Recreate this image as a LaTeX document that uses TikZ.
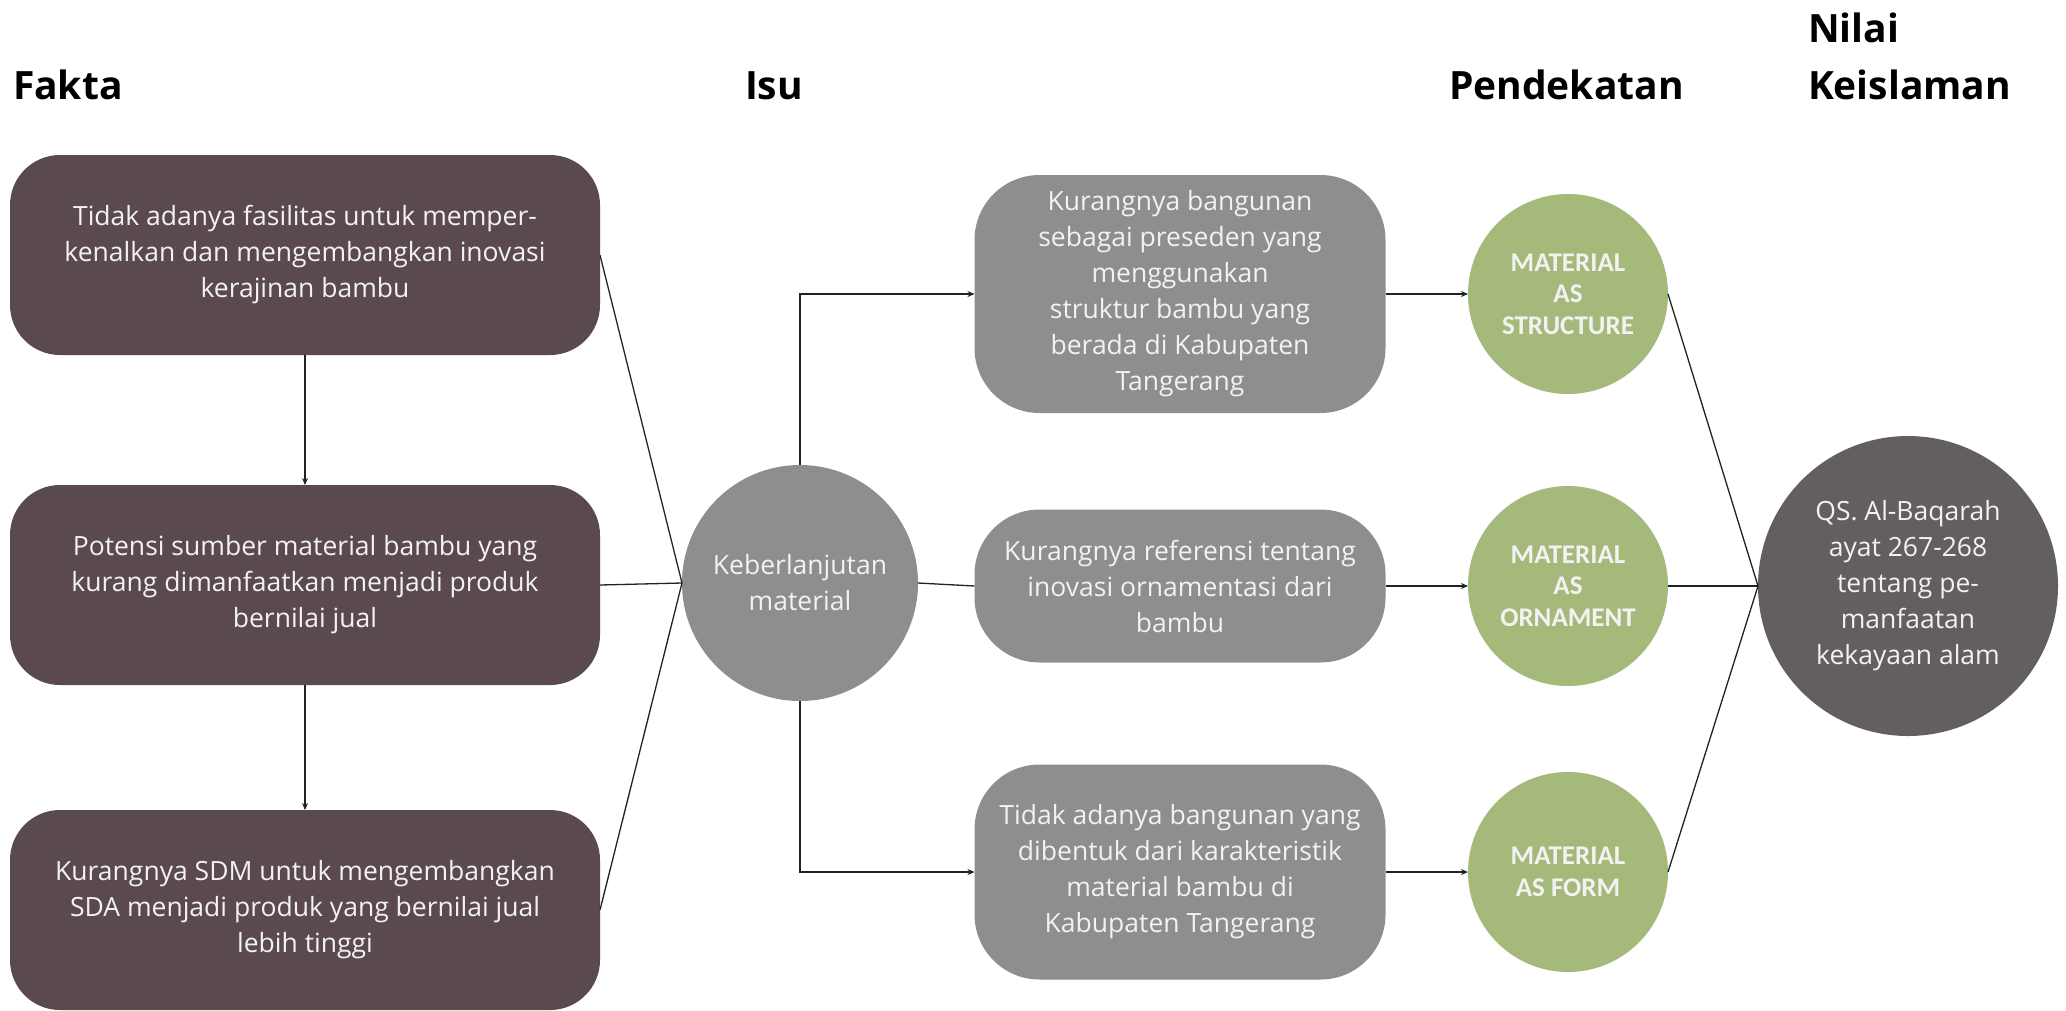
\documentclass[tikz,border=0pt]{standalone}
\usepackage{fontspec}
\usepackage{graphicx}
\setmainfont{Open Sans}
\newfontfamily\greenfont{Carlito}
\usetikzlibrary{arrows.meta}
\definecolor{faktac}{HTML}{5A4A4D}
\definecolor{isuc}{HTML}{8E8E8E}
\definecolor{pendc}{HTML}{A5B97B}
\definecolor{nilaic}{HTML}{635F5F}
\definecolor{txtc}{HTML}{F2F2F2}
\definecolor{linec}{HTML}{222222}
\begin{document}
\begin{tikzpicture}[x=1pt,y=-1pt,
  every node/.style={inner sep=0pt, outer sep=0pt},
  boxtext/.style={text=txtc, align=center, font=\fontsize{26.5}{36}\selectfont},
  faktabox/.style={boxtext, rectangle, rounded corners=50pt, fill=faktac, minimum width=590pt, minimum height=200pt},
  isubox/.style={boxtext, rectangle, rounded corners=65pt, fill=isuc, minimum width=411pt},
  pendcirc/.style={circle, fill=pendc, minimum size=200pt, text=txtc, align=center, font=\greenfont\bfseries\fontsize{27}{31.5}\selectfont},
  title/.style={anchor=base west, font=\bfseries\fontsize{39}{42}\selectfont},
  link/.style={draw=linec, line width=1.3pt},
  arr/.style={link, -{Stealth[length=7pt,width=6pt]}}
]
\useasboundingbox (0,0) rectangle (2066,1010);

% titles
\node[title] (tf) at (13,99) {Fakta};
\node[title] (ti) at (745,99) {Isu};
\node[title] (tp) at (1449,99) {Pendekatan};
\node[title] (tn) at (1808,42) {Nilai};
\node[title] (tk) at (1808,99) {Keislaman};

% fakta
\node[faktabox] (f1) at (305,255) {Tidak adanya fasilitas untuk memper-\\kenalkan dan mengembangkan inovasi\\kerajinan bambu};
\node[faktabox] (f2) at (305,585) {Potensi sumber material bambu yang\\kurang dimanfaatkan menjadi produk\\bernilai jual};
\node[faktabox] (f3) at (305,910) {Kurangnya SDM untuk mengembangkan\\SDA menjadi produk yang bernilai jual\\lebih tinggi};

% isu
\node[circle, fill=isuc, minimum size=236pt, boxtext] (k) at (800,583) {Keberlanjutan\\material};

\node[isubox, minimum height=238pt] (a) at (1180,294) {Kurangnya bangunan\\sebagai preseden yang\\menggunakan\\struktur bambu yang\\berada di Kabupaten\\Tangerang};
\node[isubox, minimum height=153pt] (b) at (1180,586) {Kurangnya referensi tentang\\inovasi ornamentasi dari\\bambu};
\node[isubox, minimum height=215pt] (c) at (1180,872) {Tidak adanya bangunan yang\\dibentuk dari karakteristik\\material bambu di\\Kabupaten Tangerang};

% pendekatan
\node[pendcirc] (ga) at (1568,294) {MATERIAL\\AS\\STRUCTURE};
\node[pendcirc] (gb) at (1568,586) {MATERIAL\\AS\\ORNAMENT};
\node[pendcirc] (gc) at (1568,872) {MATERIAL\\AS FORM};

% nilai
\node[circle, fill=nilaic, minimum size=300pt, boxtext] (q) at (1908,586) {QS. Al-Baqarah\\ayat 267-268\\tentang pe-\\manfaatan\\kekayaan alam};

% connectors
\draw[arr] (f1.south) -- (f2.north);
\draw[arr] (f2.south) -- (f3.north);
\draw[link] (f1.east) -- (k.west);
\draw[link] (f2.east) -- (k.west);
\draw[link] (f3.east) -- (k.west);
\draw[arr] (k.north) |- (a.west);
\draw[link] (k.east) -- (b.west);
\draw[arr] (k.south) |- (c.west);
\draw[arr] (a.east) -- (ga.west);
\draw[arr] (b.east) -- (gb.west);
\draw[arr] (c.east) -- (gc.west);
\draw[link] (ga.east) -- (q.west);
\draw[link] (gb.east) -- (q.west);
\draw[link] (gc.east) -- (q.west);
\end{tikzpicture}
\end{document}
